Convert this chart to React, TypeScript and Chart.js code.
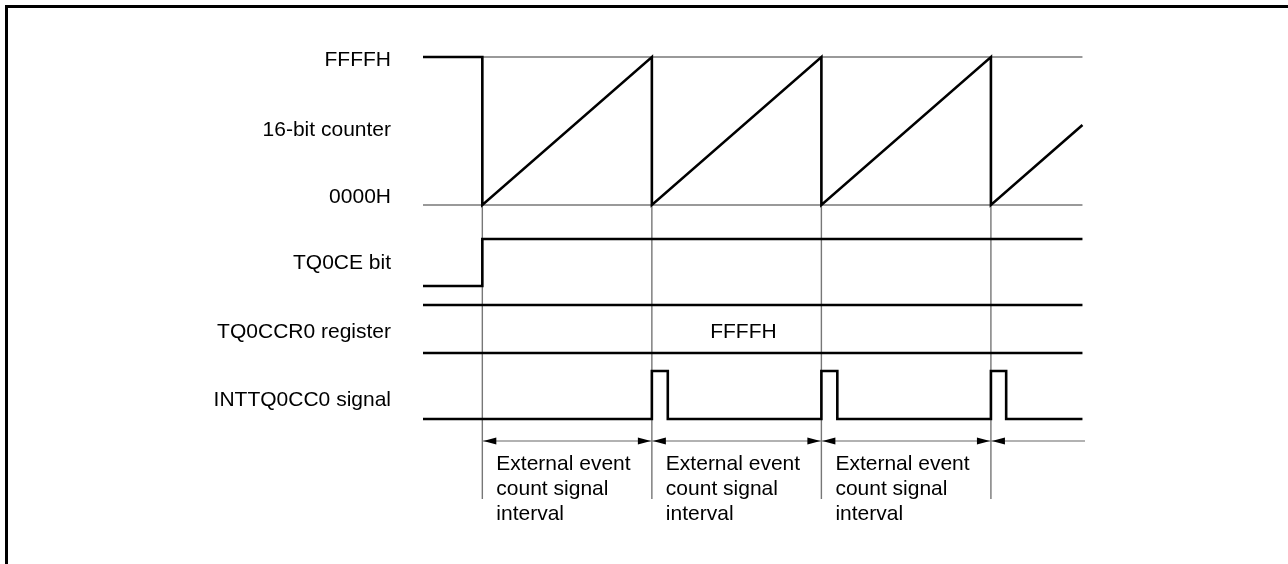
import React, { useEffect, useRef } from "react";
import { Chart, registerables } from "chart.js";

Chart.register(...registerables);

// ---- Data (time in counter periods; t = 0 when TQ0CE is set) ----
const T_START = -0.35;
const T_END = 3.54;
const T_AXIS_END = 3.555;

// 16-bit counter (sawtooth): time / count value
const counterTimes = [-0.35, 0, 0, 1, 1, 2, 2, 3, 3, 3.54];
const counterValues = [0xffff, 0xffff, 0x0000, 0xffff, 0x0000, 0xffff, 0x0000, 0xffff, 0x0000, 0x8a3d];

// TQ0CE bit: time / level
const ceTimes = [-0.35, 0, 0, 3.54];
const ceLevels = [0, 0, 1, 1];

// INTTQ0CC0 signal: time / level
const intTimes = [-0.35, 1, 1, 1.094, 1.094, 2, 2, 2.094, 2.094, 3, 3, 3.09, 3.09, 3.54];
const intLevels = [0, 0, 1, 1, 0, 0, 1, 1, 0, 0, 1, 1, 0, 0];

// TQ0CCR0 register content
const ccrValueLabel = "FFFFH";
const ccrValueTime = 1.54;

// Counter overflow / compare match times (grid lines)
const overflowTimes = [0, 1, 2, 3];

// Measured intervals
const intervalStarts = [0, 1, 2, 3];
const intervalEnds = [1, 2, 3, 3.555];
const intervalClosed = [true, true, true, false];
const intervalText = ["External event", "count signal", "interval"];

// Row labels (left side)
const rowLabels = ["FFFFH", "16-bit counter", "0000H", "TQ0CE bit", "TQ0CCR0 register", "INTTQ0CC0 signal"];

// ---- Layout (vertical lane positions, y-axis units from top) ----
const LANE = {
  counterTop: 0,
  counterBottom: 148,
  ceHigh: 182,
  ceLow: 229,
  busTop: 248,
  busBottom: 296,
  intHigh: 314,
  intLow: 362,
  arrow: 384,
  gridEnd: 442,
};
const rowLabelY = [1, 71, 138, 204, 273, 341];
const busTextY = 273.5;
const intervalTextY = [405, 430, 455];

const FONT = '21px "Liberation Sans", Arial, Helvetica, sans-serif';
const BLACK = "#000000";
const GRAY = "#777777";

const counterY = (v: number) =>
  LANE.counterBottom - (v / 0xffff) * (LANE.counterBottom - LANE.counterTop);
const levelY = (lvl: number, high: number, low: number) => low - lvl * (low - high);

export default function App() {
  const canvasRef = useRef<HTMLCanvasElement | null>(null);

  useEffect(() => {
    const canvas = canvasRef.current;
    if (!canvas) return;

    const black = (data: { x: number; y: number }[]) => ({
      data,
      borderColor: BLACK,
      borderWidth: 2.6,
      pointRadius: 0,
      tension: 0,
      clip: false as const,
      borderJoinStyle: "miter" as const,
      borderCapStyle: "butt" as const,
      fill: false,
    });
    const gray = (data: { x: number; y: number }[], color = GRAY, w = 1.4) => ({
      data,
      borderColor: color,
      borderWidth: w,
      pointRadius: 0,
      tension: 0,
      clip: false as const,
      borderCapStyle: "butt" as const,
      fill: false,
    });

    const datasets: any[] = [
      black(counterTimes.map((t, i) => ({ x: t, y: counterY(counterValues[i]) }))),
      black(ceTimes.map((t, i) => ({ x: t, y: levelY(ceLevels[i], LANE.ceHigh, LANE.ceLow) }))),
      black([
        { x: T_START, y: LANE.busTop },
        { x: T_END, y: LANE.busTop },
      ]),
      black([
        { x: T_START, y: LANE.busBottom },
        { x: T_END, y: LANE.busBottom },
      ]),
      black(intTimes.map((t, i) => ({ x: t, y: levelY(intLevels[i], LANE.intHigh, LANE.intLow) }))),
      gray([
        { x: overflowTimes[0], y: LANE.counterTop },
        { x: T_END, y: LANE.counterTop },
      ]),
      gray([
        { x: T_START, y: LANE.counterBottom },
        { x: T_END, y: LANE.counterBottom },
      ]),
      ...overflowTimes.map((t) =>
        gray([
          { x: t, y: LANE.counterTop },
          { x: t, y: LANE.gridEnd },
        ])
      ),
      gray(
        [
          { x: intervalStarts[0], y: LANE.arrow },
          { x: T_AXIS_END, y: LANE.arrow },
        ],
        "#666666",
        1.2
      ),
    ];

    const decor = {
      id: "decor",
      beforeDraw(chart: any) {
        const ctx = chart.ctx;
        ctx.save();
        ctx.fillStyle = "#ffffff";
        ctx.fillRect(0, 0, chart.width, chart.height);
        ctx.fillStyle = BLACK;
        // open frame: top and left edges
        ctx.fillRect(5, 5, chart.width - 5, 3);
        ctx.fillRect(5, 5, 3, chart.height - 5);
        ctx.restore();
      },
      afterDraw(chart: any) {
        const ctx = chart.ctx;
        const xs = chart.scales.x;
        const ys = chart.scales.y;
        ctx.save();
        ctx.font = FONT;
        ctx.fillStyle = BLACK;
        ctx.textBaseline = "alphabetic";
        const capHalf = 7.5;

        // row labels, right aligned
        ctx.textAlign = "right";
        const labelRight = chart.chartArea.left - 32;
        rowLabels.forEach((lab, i) => {
          ctx.fillText(lab, labelRight, ys.getPixelForValue(rowLabelY[i]) + capHalf);
        });

        // bus value
        ctx.textAlign = "center";
        ctx.fillText(ccrValueLabel, xs.getPixelForValue(ccrValueTime), ys.getPixelForValue(busTextY) + capHalf);

        // interval arrows and texts
        const ay = ys.getPixelForValue(LANE.arrow);
        const headL = 13;
        const headW = 3.4;
        ctx.textAlign = "left";
        intervalStarts.forEach((s, i) => {
          const x0 = xs.getPixelForValue(s);
          const x1 = xs.getPixelForValue(intervalEnds[i]);
          ctx.beginPath();
          ctx.moveTo(x0 + 1, ay);
          ctx.lineTo(x0 + 1 + headL, ay - headW);
          ctx.lineTo(x0 + 1 + headL, ay + headW);
          ctx.closePath();
          ctx.fill();
          if (intervalClosed[i]) {
            ctx.beginPath();
            ctx.moveTo(x1 - 1, ay);
            ctx.lineTo(x1 - 1 - headL, ay - headW);
            ctx.lineTo(x1 - 1 - headL, ay + headW);
            ctx.closePath();
            ctx.fill();
            intervalText.forEach((line, j) => {
              ctx.fillText(line, x0 + 14, ys.getPixelForValue(intervalTextY[j]) + capHalf);
            });
          }
        });
        ctx.restore();
      },
    };

    const chart = new Chart(canvas, {
      type: "line",
      data: { datasets },
      options: {
        responsive: false,
        animation: false,
        events: [],
        devicePixelRatio: 1,
        layout: { padding: { left: 423, right: 203, top: 57, bottom: 65 } },
        plugins: { legend: { display: false }, tooltip: { enabled: false } },
        scales: {
          x: { type: "linear", min: T_START, max: T_AXIS_END, display: false },
          y: { type: "linear", min: 0, max: LANE.gridEnd, reverse: true, display: false },
        },
      },
      plugins: [decor],
    });

    return () => chart.destroy();
  }, []);

  return (
    <div style={{ position: "absolute", left: 0, top: 0, width: 1288, height: 564 }}>
      <canvas ref={canvasRef} width={1288} height={564} />
    </div>
  );
}
